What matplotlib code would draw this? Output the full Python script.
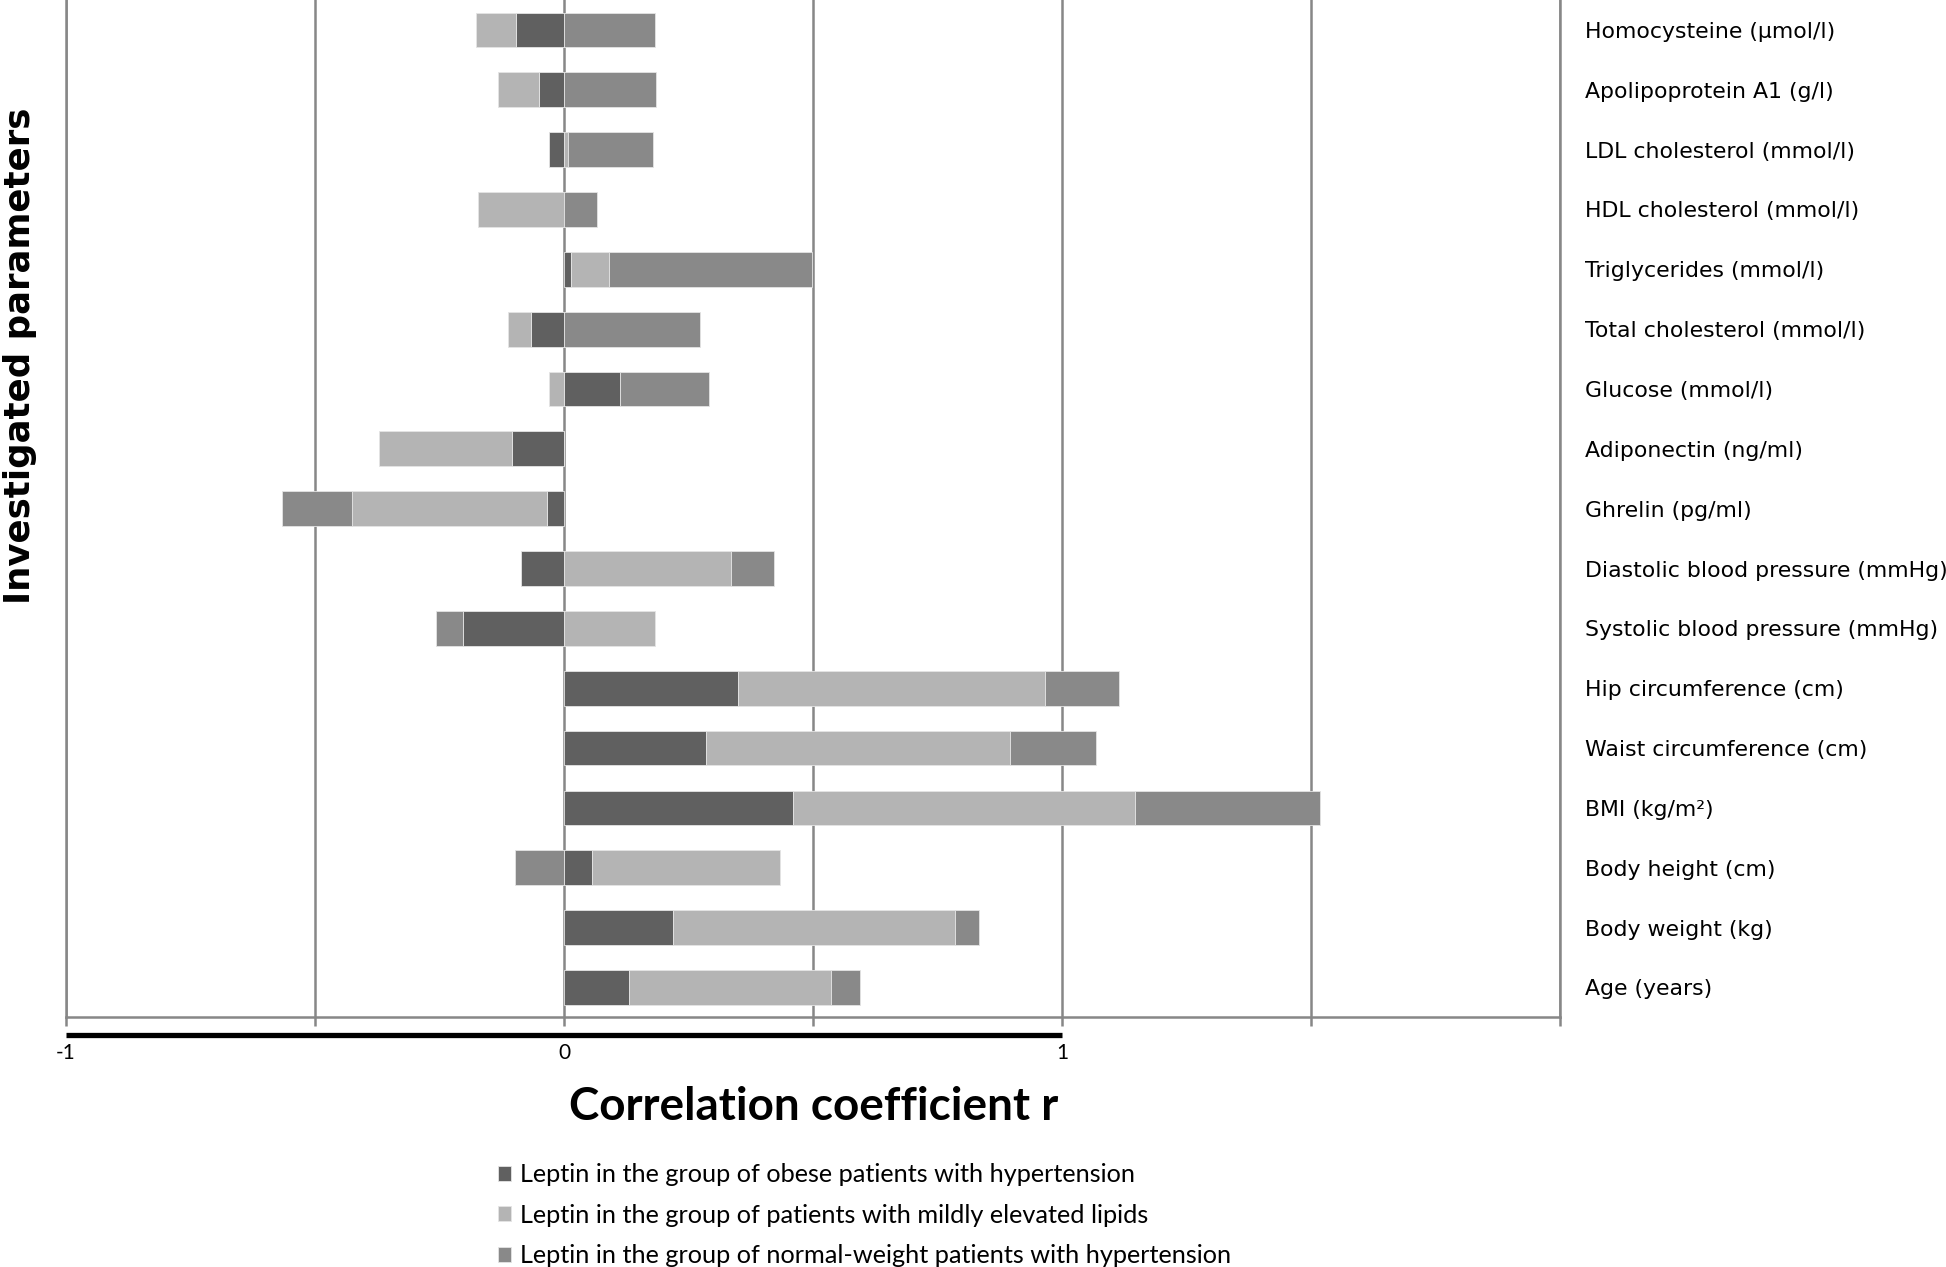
import numpy as np
import matplotlib
matplotlib.use("Agg")
from matplotlib import pyplot as plt

# data, listed bottom -> top as drawn
params = ['Age (years)', 'Body weight (kg)', 'Body height (cm)', 'BMI (kg/m²)',
          'Waist circumference (cm)', 'Hip circumference (cm)',
          'Systolic blood pressure (mmHg)', 'Diastolic blood pressure (mmHg)',
          'Ghrelin (pg/ml)', 'Adiponectin (ng/ml)', 'Glucose (mmol/l)',
          'Total cholesterol (mmol/l)', 'Triglycerides (mmol/l)',
          'HDL cholesterol (mmol/l)', 'LDL cholesterol (mmol/l)',
          'Apolipoprotein A1 (g/l)', 'Homocysteine (µmol/l)']
r_obese  = [0.130, 0.218, 0.056, 0.460, 0.286, 0.350, -0.203, -0.087, -0.035,
            -0.105, 0.113, -0.067, 0.014, 0.000, -0.031, -0.050, -0.097]
r_lipids = [0.407, 0.567, 0.377, 0.686, 0.609, 0.617, 0.183, 0.335, -0.390,
            -0.266, -0.031, -0.046, 0.076, -0.173, 0.009, -0.083, -0.080]
r_normal = [0.058, 0.049, -0.099, 0.372, 0.174, 0.147, -0.054, 0.086, -0.142,
            0.000, 0.178, 0.273, 0.408, 0.066, 0.170, 0.184, 0.183]
series_names = ['Leptin in the group of obese patients with hypertension',
                'Leptin in the group of patients with mildly elevated lipids',
                'Leptin in the group of normal-weight patients with hypertension']
x_ticks = [-1, -0.5, 0, 0.5, 1, 1.5, 2]
x_ticklabels = ['-1', '', '0', '', '1', '', '']

colors = ['#606060', '#b4b4b4', '#898989']
grid_c = '#878787'

fig = plt.figure(figsize=(19.46, 12.67), dpi=100)
ax = fig.add_axes([0.0339, 0.197, 0.7677, 0.803])

y = np.arange(len(params))
pos = np.zeros(len(params))
neg = np.zeros(len(params))
for vals, name, c in zip([r_obese, r_lipids, r_normal], series_names, colors):
    v = np.array(vals)
    left = np.where(v >= 0, pos, neg)
    ax.barh(y, v, left=left, height=0.58, color=c, edgecolor='#e4e4e4',
            linewidth=0.6, label=name, zorder=2)
    pos = pos + np.where(v >= 0, v, 0)
    neg = neg + np.where(v < 0, v, 0)

ax.set_xlim(-1, 2)
ax.set_ylim(-0.5, len(params) - 0.5)
ax.set_xticks(x_ticks, labels=x_ticklabels)
ax.grid(axis='x', color=grid_c, linewidth=1.8, zorder=0)
ax.set_axisbelow(True)
ax.spines['top'].set_visible(False)
for s in ['left', 'right', 'bottom']:
    ax.spines[s].set_color(grid_c)
    ax.spines[s].set_linewidth(1.8)

ax.tick_params(axis='x', direction='out', length=6.5, width=1.8, color=grid_c,
               pad=12, labelsize=15)
for t in ax.get_xticklabels():
    t.set_family('Lato')
ax.yaxis.tick_right()
ax.set_yticks(y, labels=params)
ax.tick_params(axis='y', length=0, pad=18, labelsize=15.8)

# thick black bar below the axis, from -1 to 1
ax.plot([-1, 1], [-0.017, -0.017], transform=ax.get_xaxis_transform(),
        color='black', linewidth=3.8, solid_capstyle='butt', clip_on=False)

fig.text(0.418, 0.126, 'Correlation coefficient r', ha='center', va='center',
         fontsize=33, fontweight='bold', family='Lato')
fig.text(0.0105, 0.719, 'Investigated parameters', ha='center', va='center',
         rotation=90, fontsize=25.6, fontweight='bold')

fig.legend(loc='upper left', bbox_to_anchor=(0.256, 0.082), frameon=False,
           prop={'family': 'Lato', 'size': 18.2}, handlelength=0.52,
           handleheight=0.52, handletextpad=0.36, labelspacing=0.7,
           borderpad=0, borderaxespad=0)

fig.savefig('out.png', dpi=100)
